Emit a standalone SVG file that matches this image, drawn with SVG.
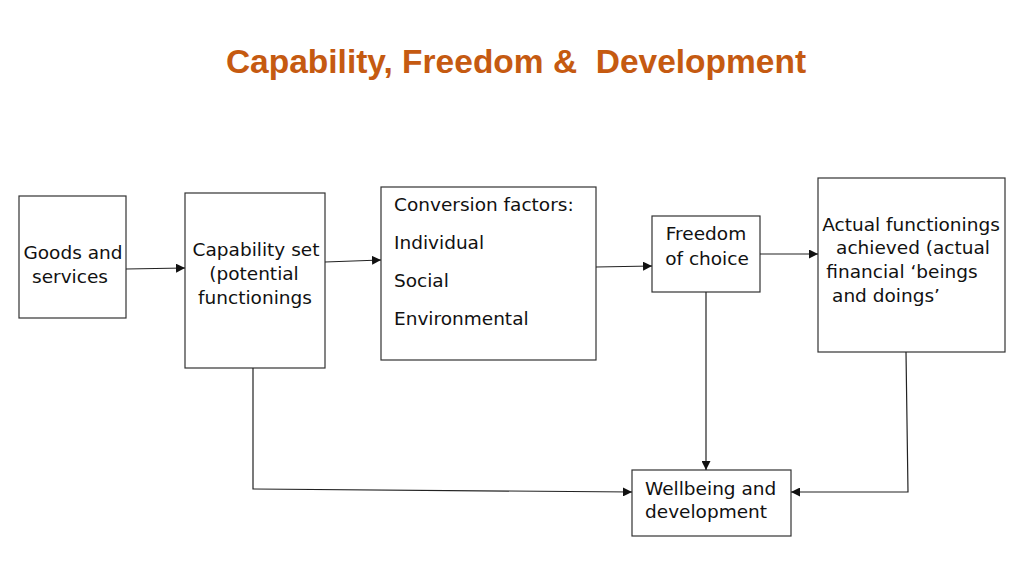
<svg xmlns="http://www.w3.org/2000/svg" width="1024" height="576" viewBox="0 0 1024 576">
<style>
.b{fill:#fff;stroke:#333;stroke-width:1.2}
.t{font-family:"DejaVu Sans",sans-serif;font-size:18.5px;fill:#111}
.c{text-anchor:middle}
.l{fill:none;stroke:#222;stroke-width:1.2}
</style>
<defs><marker id="a" viewBox="0 0 10 10" refX="10" refY="5" markerWidth="9" markerHeight="9" markerUnits="userSpaceOnUse" orient="auto"><path d="M0,0L10,5L0,10z" fill="#111"/></marker></defs>
<rect width="1024" height="576" fill="#fff"/>
<text x="516" y="73" text-anchor="middle" font-family="Liberation Sans,Arial,sans-serif" font-weight="bold" font-size="33.5" fill="#C55A11">Capability, Freedom &amp;&#160; Development</text>
<g id="goods"><rect class="b" x="19" y="196" width="107" height="122"/><text class="t c" x="73" y="259">Goods and</text><text class="t c" x="70" y="283">services</text></g>
<g id="capability"><rect class="b" x="185" y="193" width="140" height="175"/><text class="t c" x="256" y="256">Capability set</text><text class="t c" x="254" y="280">(potential</text><text class="t c" x="255" y="304">functionings</text></g>
<g id="conversion"><rect class="b" x="381" y="187" width="215" height="173"/><text class="t" x="394" y="211">Conversion factors:</text><text class="t" x="394" y="249">Individual</text><text class="t" x="394" y="287">Social</text><text class="t" x="394" y="325">Environmental</text></g>
<g id="freedom"><rect class="b" x="652" y="216" width="108" height="76"/><text class="t c" x="706" y="240">Freedom</text><text class="t c" x="707" y="265">of choice</text></g>
<g id="actual"><rect class="b" x="818" y="178" width="187" height="174"/><text class="t c" x="911" y="231">Actual functionings</text><text class="t c" x="913" y="254">achieved (actual</text><text class="t c" x="902" y="278">financial ‘beings</text><text class="t c" x="886" y="302">and doings’</text></g>
<g id="wellbeing"><rect class="b" x="632" y="470" width="159" height="66"/><text class="t" x="645" y="495">Wellbeing and</text><text class="t" x="645" y="518">development</text></g>
<g id="connectors">
<path class="l" d="M126,269L185,268" marker-end="url(#a)"/>
<path class="l" d="M325,262L381,260" marker-end="url(#a)"/>
<path class="l" d="M596,267L652,266" marker-end="url(#a)"/>
<path class="l" d="M760,254L818,254" marker-end="url(#a)"/>
<path class="l" d="M706,292L706,470" marker-end="url(#a)"/>
<path class="l" d="M253,368L253,489L632,492" marker-end="url(#a)"/>
<path class="l" d="M906,352L908,492L791,492" marker-end="url(#a)"/>
</g>
</svg>
